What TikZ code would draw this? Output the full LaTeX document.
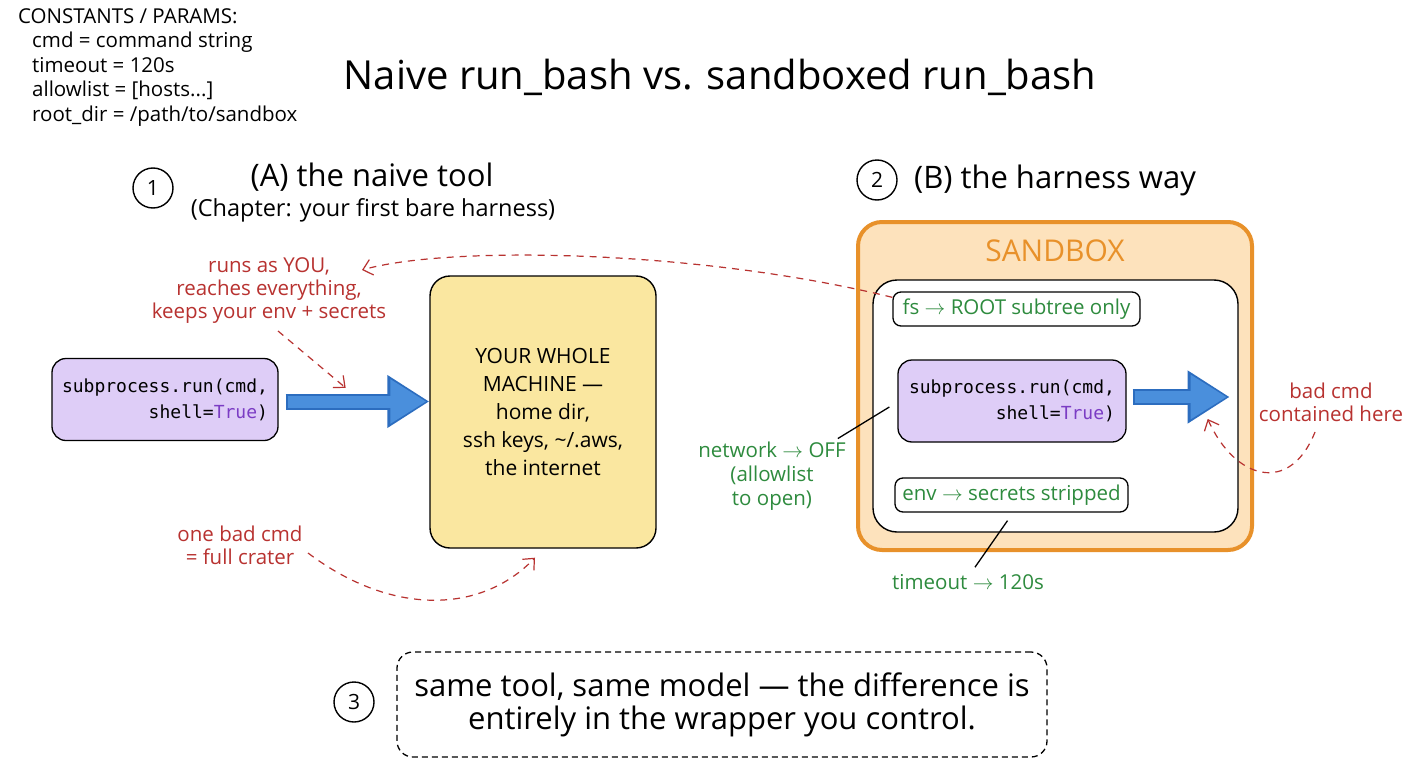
\documentclass[tikz,border=0pt]{standalone}
\usepackage{fontspec}
\setmainfont{Open Sans}
\setmonofont{DejaVu Sans Mono}
\usetikzlibrary{arrows.meta,calc}
\definecolor{redtxt}{HTML}{B83230}
\definecolor{greentxt}{HTML}{2E8B3E}
\definecolor{orangeedge}{HTML}{E8912A}
\definecolor{orangefill}{HTML}{FDE2BC}
\definecolor{purplefill}{HTML}{DECDF7}
\definecolor{truepurple}{HTML}{7B3CC4}
\definecolor{yellowfill}{HTML}{FAE7A0}
\definecolor{arrowblue}{HTML}{4A8FDC}
\definecolor{arrowedge}{HTML}{2C6DBF}
\newcommand\fs[2]{\fontsize{#1}{#2}\selectfont}
\newcommand\ra{$\rightarrow$}
\tikzset{
  txt/.style={inner sep=0pt, align=center},
  redlbl/.style={txt, text=redtxt, font=\fs{20.5}{23}},
  greenlbl/.style={txt, text=greentxt, font=\fs{20.5}{24}},
  codebox/.style={draw=black, line width=1.3pt, fill=purplefill, rounded corners=14pt,
     minimum width=226pt, minimum height=82pt, align=right, font=\ttfamily\fs{18}{26}, inner sep=0pt},
  tagbox/.style={draw=black, line width=1.3pt, fill=white, rounded corners=8pt,
     minimum height=34pt, inner sep=0pt, text=greentxt, font=\fs{20.5}{22}},
  numcirc/.style={draw=black, line width=1.4pt, circle, minimum size=40pt, inner sep=0pt, font=\fs{21}{21}},
  reddash/.style={draw=redtxt, line width=1.2pt, dash pattern=on 7pt off 6pt, -{Straight Barb[length=9pt,width=16pt]}},
  fatarrow/.style={draw=arrowedge, line width=16pt, -{Triangle[length=42pt,width=50pt]}},
  fatinner/.style={draw=arrowblue, line width=12pt, -{Triangle[length=36pt,width=42pt]}},
  pointer/.style={draw=black, line width=1.3pt},
}
\begin{document}
\begin{tikzpicture}[x=1pt,y=-1pt]
\useasboundingbox[fill=white] (0,0) rectangle (1408,768);

% constants
\node[anchor=north west, inner sep=0pt, align=left, font=\fs{20.5}{24.5}] (consts) at (18,8)
 {CONSTANTS / PARAMS:\\
  \hspace*{14pt}cmd = command string\\
  \hspace*{14pt}timeout = 120s\\
  \hspace*{14pt}allowlist = [hosts...]\\
  \hspace*{14pt}root\_dir = /path/to/sandbox};

% title
\node[txt, font=\fs{40}{40}] (title) at (720,77) {Naive run\_bash vs. sandboxed run\_bash};

% section A
\node[numcirc] (n1) at (153,188) {1};
\node[txt, font=\fs{31}{31}] (ha) at (372,177) {(A) the naive tool};
\node[txt, font=\fs{23.5}{23.5}] (hach) at (373,210) {(Chapter: your first bare harness)};

% section B
\node[numcirc] (n2) at (877,180) {2};
\node[txt, font=\fs{31}{31}] (hb) at (1055,180) {(B) the harness way};

% left side
\node[redlbl] (runs) at (269,291) {runs as YOU,\\reaches everything,\\keeps your env + secrets};
\node[codebox] (p1) at (165,399.5) {subprocess.run(cmd,\\shell=\textcolor{truepurple}{True})};
\node[draw=black, line width=1.4pt, fill=yellowfill, rounded corners=20pt,
      minimum width=226pt, minimum height=272pt, txt, font=\fs{21}{28}] (mach) at (543,412)
      {YOUR WHOLE\\MACHINE —\\home dir,\\ssh keys, \textasciitilde/.aws,\\the internet};
\node[redlbl] (crater) at (240,545) {one bad cmd\\= full crater};

% sandbox
\node[draw=orangeedge, line width=4pt, fill=orangefill, rounded corners=24pt,
      minimum width=394pt, minimum height=328pt] (sand) at (1055,386) {};
\node[txt, text=orangeedge, font=\fs{30}{30}] (sandlbl) at (1055,251) {SANDBOX};
\node[draw=black, line width=1.4pt, fill=white, rounded corners=24pt,
      minimum width=365pt, minimum height=252pt] (inner) at (1055.5,406) {};
\node[tagbox, minimum width=247pt] (fsbox) at (1016.5,309) {fs \ra{} ROOT subtree only};
\node[codebox, minimum width=228pt] (p2) at (1012,401) {subprocess.run(cmd,\\shell=\textcolor{truepurple}{True})};
\node[tagbox, minimum width=233pt] (envbox) at (1011.5,495) {env \ra{} secrets stripped};

\node[greenlbl] (net) at (772,476) {network \ra{} OFF\\(allowlist\\to open)};
\node[greenlbl] (tout) at (968,582) {timeout \ra{} 120s};
\node[redlbl] (badc) at (1331,402) {bad cmd\\contained here};

% bottom
\node[numcirc] (n3) at (354,702) {3};
\node[draw=black, line width=1.3pt, dash pattern=on 6pt off 4pt, rounded corners=16pt,
      minimum width=650pt, minimum height=105pt, txt, font=\fs{31}{33}] (summary) at (722,704.5)
      {same tool, same model — the difference is\\entirely in the wrapper you control.};

% fat arrows
\coordinate (a2end) at ($(inner.east)+(-9,-9)$);
\draw[fatarrow] ($(p1.east)+(7,2)$) -- (mach.west |- {$(p1.east)+(0,2)$});
\draw[fatinner] ($(p1.east)+(9,2)$) -- ($(mach.west |- {$(p1.east)+(0,2)$})+(-3,0)$);
\draw[fatarrow] ($(p2.east)+(6,-4)$) -- (a2end);
\draw[fatinner] ($(p2.east)+(8,-4)$) -- ($(a2end)+(-3,0)$);

% red dashed arrows
\coordinate (runstip) at ($(runs.center)+(93,-21)$);
\draw[reddash] ($(fsbox.north west)+(0,6)$) .. controls (700,250) and (450,245) .. (runstip);
\draw[reddash] ($(runs.center)+(9,40)$) -- ($(p1.north east)+(67,30)$);
\coordinate (cratertip) at ($(mach.south)+(-8,9)$);
\draw[reddash] ($(crater.center)+(68,8)$) .. controls (390,615) and (480,615) .. (cratertip);
\coordinate (badtip) at ($(a2end)+(-22,22)$);
\draw[reddash] ($(badc.center)+(-16,30)$) .. controls (1290,495) and (1235,480) .. (badtip);

% pointer lines
\draw[pointer] ($(net.north east)+(-8,-3)$) -- ($(p2.west)+(-8,6)$);
\draw[pointer] ($(envbox.south)+(-4,8)$) -- ($(tout.north)+(7,-7)$);
\end{tikzpicture}
\end{document}
